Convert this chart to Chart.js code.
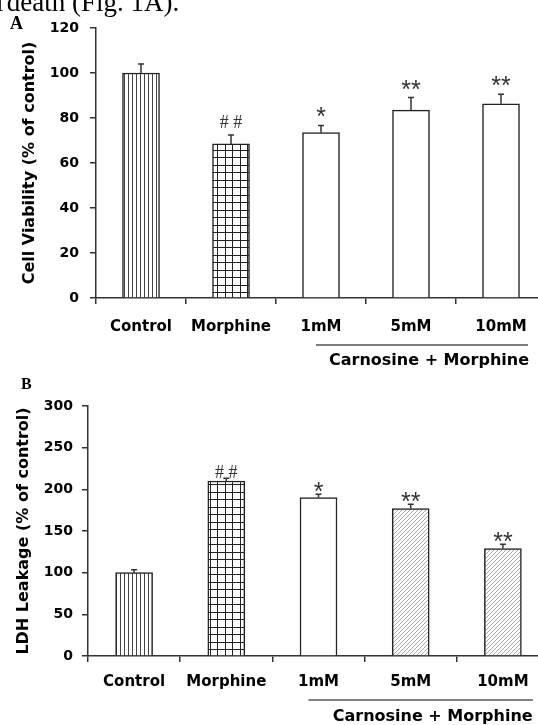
<!DOCTYPE html>
<html>
<head>
<meta charset="utf-8">
<script src="https://cdn.jsdelivr.net/npm/chart.js@4.4.0/dist/chart.umd.min.js"></script>
<style>
  html, body { margin: 0; padding: 0; background: #fff; overflow: hidden; width: 538px; height: 725px; }
  canvas { position: absolute; left: 0; }
  #chartA { top: 0; }
  #chartB { top: 372px; }
</style>
</head>
<body>
<canvas id="chartA" width="546" height="372"></canvas>
<canvas id="chartB" width="549" height="353"></canvas>
<script>
// data
const categories = ["Control", "Morphine", "1mM", "5mM", "10mM"];

const viabilityValues = [100, 68.5, 73.5, 83.5, 86.3];
const viabilityErrors = [4, 4, 3.2, 5.6, 4.3];
const viabilityMarks = ["", "##", "*", "**", "**"];
const viabilityTicks = [0, 20, 40, 60, 80, 100, 120];

const ldhValues = [100, 210, 190, 177, 129];
const ldhErrors = [3.6, 3.2, 4, 5, 5];
const ldhMarks = ["", "##", "*", "**", "**"];
const ldhTicks = [0, 50, 100, 150, 200, 250, 300];

const groupLabel = "Carnosine + Morphine";

// fill patterns
function makePattern(w, h, draw) {
  const c = document.createElement("canvas");
  c.width = w; c.height = h;
  const g = c.getContext("2d");
  g.fillStyle = "#fff";
  g.fillRect(0, 0, w, h);
  draw(g);
  return g.createPattern(c, "repeat");
}
const vertLines = makePattern(4, 1, g => { g.fillStyle = "#444"; g.fillRect(0, 0, 1, 1); });
const gridLines = makePattern(15, 15, g => {
  g.fillStyle = "#222";
  g.fillRect(0, 0, 15, 1); g.fillRect(0, 7, 15, 1);
  g.fillRect(0, 0, 1, 15); g.fillRect(7, 0, 1, 15);
});
const diagLines = makePattern(4, 4, g => {
  g.strokeStyle = "#a8a8a8"; g.lineWidth = 1;
  g.beginPath();
  g.moveTo(0, 4); g.lineTo(4, 0);
  g.moveTo(-1, 1); g.lineTo(1, -1);
  g.moveTo(3, 5); g.lineTo(5, 3);
  g.stroke();
});

const fillsA = [vertLines, gridLines, "#fff", "#fff", "#fff"];
const fillsB = [vertLines, gridLines, "#fff", diagLines, diagLines];

const tickFont = { family: "DejaVu Sans", weight: "bold", size: 14 };
const labelFont = { family: "DejaVu Sans", weight: "bold", size: 15 };
const titleFont = { family: "DejaVu Sans", weight: "bold", size: 16 };

function errorBars(errors, marks, markGap) {
  return {
    id: "errbars",
    afterDatasetsDraw(chart) {
      const ctx = chart.ctx;
      const y = chart.scales.y;
      const meta = chart.getDatasetMeta(0);
      const vals = chart.data.datasets[0].data;
      ctx.save();
      ctx.strokeStyle = "#333";
      ctx.lineWidth = 1.5;
      meta.data.forEach((bar, i) => {
        const top = y.getPixelForValue(vals[i]);
        const end = y.getPixelForValue(vals[i] + errors[i]);
        ctx.beginPath();
        ctx.moveTo(bar.x, top); ctx.lineTo(bar.x, end);
        ctx.moveTo(bar.x - 3, end); ctx.lineTo(bar.x + 3, end);
        ctx.stroke();
        if (marks[i]) {
          const isHash = marks[i].indexOf("#") >= 0;
          const txt = isHash ? marks[i].split("").join(" ") : marks[i];
          ctx.font = isHash ? "18px 'Liberation Serif'" : "25px 'Liberation Sans'";
          ctx.fillStyle = "#333";
          ctx.textAlign = "center";
          ctx.textBaseline = "alphabetic";
          const m = ctx.measureText(txt);
          const cy = end - markGap;
          ctx.fillText(txt, bar.x, cy + (m.actualBoundingBoxAscent - m.actualBoundingBoxDescent) / 2);
        }
      });
      ctx.restore();
    }
  };
}

function groupBracket(startOff, endOff, lineGap, textGap, textShift) {
  return {
    id: "bracket",
    afterDraw(chart) {
      const ctx = chart.ctx;
      const x = chart.scales.x;
      const base = chart.chartArea.bottom;
      const x1 = x.getPixelForValue(2) - startOff;
      const x2 = x.getPixelForValue(4) + endOff;
      ctx.save();
      ctx.strokeStyle = "#555";
      ctx.lineWidth = 1.5;
      ctx.beginPath();
      ctx.moveTo(x1, base + lineGap); ctx.lineTo(x2, base + lineGap);
      ctx.stroke();
      ctx.font = "bold 16px 'DejaVu Sans'";
      ctx.fillStyle = "#000";
      ctx.textAlign = "center";
      ctx.textBaseline = "middle";
      ctx.fillText(groupLabel, (x.getPixelForValue(2) + x.getPixelForValue(4)) / 2 + textShift, base + textGap);
      ctx.restore();
    }
  };
}

function pageText(draw) {
  return { id: "pagetext", afterDraw(chart) { chart.ctx.save(); draw(chart.ctx); chart.ctx.restore(); } };
}

function makeChart(id, values, fills, ticks, title, opts, plugins) {
  return new Chart(document.getElementById(id), {
    type: "bar",
    data: {
      labels: categories,
      datasets: [{
        data: values,
        backgroundColor: fills,
        borderColor: "#222",
        borderWidth: 1.5,
        barThickness: 37
      }]
    },
    options: {
      responsive: false,
      devicePixelRatio: 1,
      animation: false,
      layout: { padding: { top: opts.top, right: 0, bottom: 0, left: 0 } },
      plugins: { legend: { display: false }, tooltip: { enabled: false } },
      scales: {
        x: {
          grid: { display: true, drawOnChartArea: false, offset: true, tickLength: 6, color: "#333", lineWidth: 1.5 },
          border: { display: true, color: "#333", width: 1.5 },
          ticks: { font: labelFont, color: "#000", padding: opts.xPad, maxRotation: 0 },
          afterFit(s) { s.height = opts.xHeight; }
        },
        y: {
          min: ticks[0],
          max: ticks[ticks.length - 1],
          grid: { display: true, drawOnChartArea: false, tickLength: 6, color: "#333", lineWidth: 1.5 },
          border: { display: true, color: "#333", width: 1.5 },
          ticks: { stepSize: ticks[1] - ticks[0], font: tickFont, color: "#000", padding: opts.yPad },
          title: { display: true, text: title, font: titleFont, color: "#000", padding: { top: opts.titlePad, bottom: 0 } },
          afterFit(s) { s.width = opts.yWidth; }
        }
      }
    },
    plugins: plugins
  });
}

makeChart("chartA", viabilityValues, fillsA, viabilityTicks, "Cell Viability (% of control)",
  { top: 28, xHeight: 74, yWidth: 96, yPad: 11, xPad: 14, titlePad: 20 },
  [errorBars(viabilityErrors, viabilityMarks, 13), groupBracket(5, 27, 47, 63, 18),
   pageText(ctx => {
     ctx.fillStyle = "#000";
     ctx.font = "27px 'Liberation Serif'";
     ctx.fillText("l", -4, 10.5);
     ctx.fillText("death (Fig. 1A).", 6.7, 10.5);
     ctx.font = "bold 18px 'Liberation Serif'";
     ctx.fillText("A", 10, 29);
   })]);

makeChart("chartB", ldhValues, fillsB, ldhTicks, "LDH Leakage (% of control)",
  { top: 34, xHeight: 69, yWidth: 88, yPad: 9, xPad: 11, titlePad: 14 },
  [errorBars(ldhErrors, ldhMarks, 7), groupBracket(10, 30, 44, 61, 22),
   pageText(ctx => {
     ctx.fillStyle = "#000";
     ctx.font = "bold 16px 'Liberation Serif'";
     ctx.fillText("B", 21, 17);
   })]);
</script>
</body>
</html>
